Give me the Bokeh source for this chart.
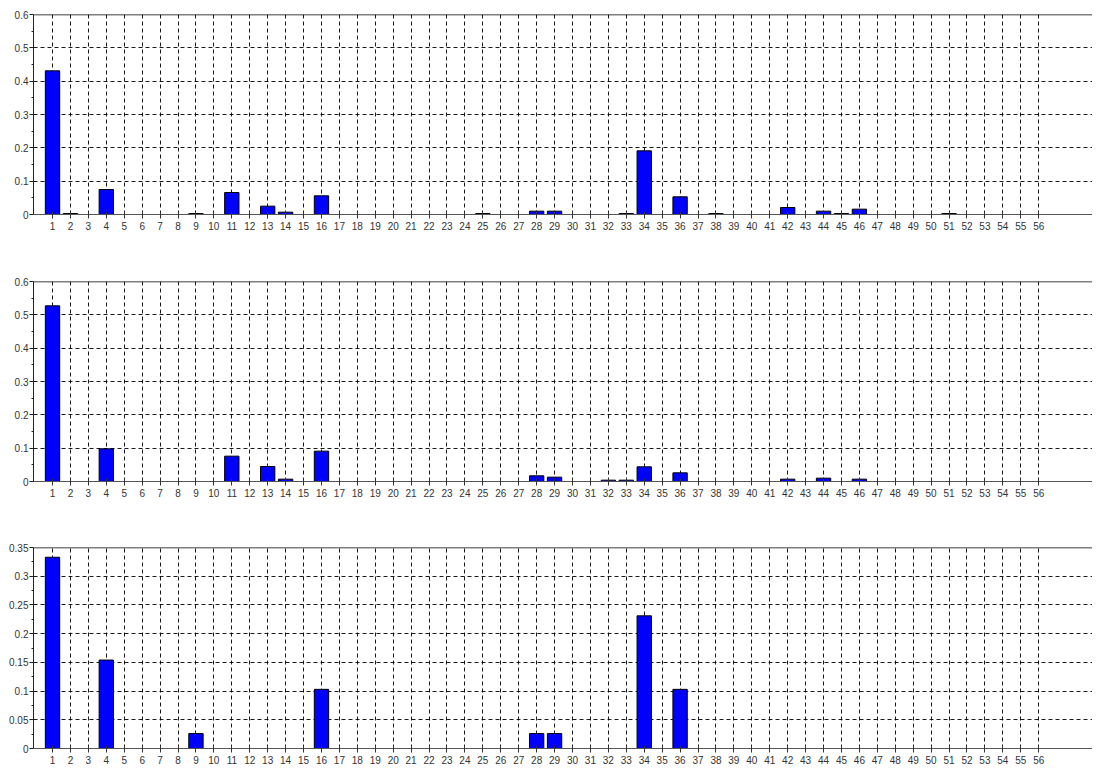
from bokeh.plotting import figure
from bokeh.layouts import column
from bokeh.models import Range1d, FixedTicker, NumeralTickFormatter, Span, ColumnDataSource
from bokeh.embed import file_html
from bokeh.resources import INLINE

# ---- data ----
X_TICKS = list(range(1, 57))

top_x = [1, 2, 4, 9, 11, 13, 14, 16, 25, 28, 29, 33, 34, 36, 38, 42, 44, 45, 46, 51]
top_v = [0.431, 0.003, 0.075, 0.003, 0.066, 0.025, 0.007, 0.056, 0.003, 0.010, 0.010,
         0.003, 0.191, 0.053, 0.003, 0.021, 0.010, 0.003, 0.016, 0.003]

mid_x = [1, 4, 11, 13, 14, 16, 28, 29, 32, 33, 34, 36, 42, 44, 46]
mid_v = [0.527, 0.098, 0.076, 0.045, 0.007, 0.091, 0.017, 0.013, 0.004, 0.004,
         0.044, 0.026, 0.007, 0.010, 0.007]

bot_x = [1, 4, 9, 16, 28, 29, 34, 36]
bot_v = [0.333, 0.154, 0.026, 0.103, 0.026, 0.026, 0.231, 0.103]

Y_TICKS_A = [0, 0.1, 0.2, 0.3, 0.4, 0.5, 0.6]
Y_MINOR_A = [0.05, 0.15, 0.25, 0.35, 0.45, 0.55]
Y_TICKS_B = [0, 0.05, 0.1, 0.15, 0.2, 0.25, 0.3, 0.35]
Y_MINOR_B = [0.025, 0.075, 0.125, 0.175, 0.225, 0.275, 0.325]

FONT = "Liberation Sans"


def make_panel(xs, vals, ymax, yticks, yminor, height, top, bottom):
    p = figure(width=1092, height=height,
               x_range=Range1d(-0.06, 59.0), y_range=Range1d(0, ymax),
               output_backend="svg", toolbar_location=None,
               min_border_left=33, min_border_right=0,
               min_border_top=top, min_border_bottom=bottom)
    p.outline_line_color = None
    p.background_fill_color = "white"
    p.border_fill_color = "white"

    src = ColumnDataSource(dict(x=xs, top=vals))
    p.vbar(x="x", top="top", width=0.8, bottom=0, source=src,
           fill_color="#0000FF", line_color="black", line_width=1)

    # x axis
    xa = p.xaxis[0]
    xa.ticker = FixedTicker(ticks=X_TICKS)
    xa.axis_line_color = "#555555"
    xa.major_tick_line_color = "#333333"
    xa.major_tick_in = 3
    xa.major_tick_out = 4
    xa.minor_tick_line_color = None
    xa.major_label_standoff = 3
    xa.major_label_text_font = FONT
    xa.major_label_text_font_size = "10px"
    xa.major_label_text_color = "#333333"

    # y axis
    ya = p.yaxis[0]
    ya.ticker = FixedTicker(ticks=yticks, minor_ticks=yminor)
    ya.formatter = NumeralTickFormatter(format="0.[00]")
    ya.axis_line_color = "#222222"
    ya.major_tick_line_color = "#222222"
    ya.major_tick_in = 0
    ya.major_tick_out = 4
    ya.minor_tick_line_color = "#222222"
    ya.minor_tick_in = 0
    ya.minor_tick_out = 2
    ya.major_label_standoff = 1
    ya.major_label_text_font = FONT
    ya.major_label_text_font_size = "10px"
    ya.major_label_text_color = "#333333"

    # grids
    for g in (p.xgrid[0], p.ygrid[0]):
        g.grid_line_color = "black"
        g.grid_line_dash = "4 3"
        g.grid_line_width = 1
        g.grid_line_alpha = 0.9

    p.add_layout(Span(location=ymax, dimension="width", line_color="black", line_width=1.5))
    return p


f1 = make_panel(top_x, top_v, 0.6, Y_TICKS_A, Y_MINOR_A, 267, 14, 53)
f2 = make_panel(mid_x, mid_v, 0.6, Y_TICKS_A, Y_MINOR_A, 266, 14, 52)
f3 = make_panel(bot_x, bot_v, 0.35, Y_TICKS_B, Y_MINOR_B, 235, 14, 20)

layout = column(f1, f2, f3, spacing=0)

open("out.html", "w").write(file_html(layout, INLINE))
